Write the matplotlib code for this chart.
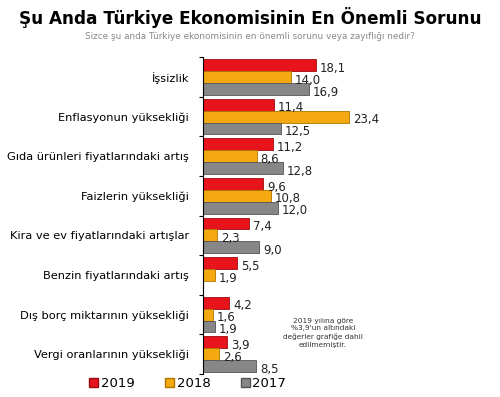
import matplotlib.pyplot as plt
from matplotlib.patches import Patch
import numpy as np

categories = ['İşsizlik', 'Enflasyonun yüksekliği', 'Gıda ürünleri fiyatlarındaki artış',
              'Faizlerin yüksekliği', 'Kira ve ev fiyatlarındaki artışlar',
              'Benzin fiyatlarındaki artış', 'Dış borç miktarının yüksekliği',
              'Vergi oranlarının yüksekliği']
v2019 = [18.1, 11.4, 11.2, 9.6, 7.4, 5.5, 4.2, 3.9]
v2018 = [14.0, 23.4, 8.6, 10.8, 2.3, 1.9, 1.6, 2.6]
v2017 = [16.9, 12.5, 12.8, 12.0, 9.0, None, 1.9, 8.5]
years = ['2019', '2018', '2017']
colors = ['#e8141c', '#f3a90f', '#878787']
edges = ['#9a0a0e', '#b07400', '#555555']

def fmt(v):
	return '{:.1f}'.format(v).replace('.', ',')

fig = plt.figure(figsize=(5, 3.97), dpi=100)
ax = fig.add_axes([0.406, 0.058, 0.6, 0.798])

n = len(categories)
h = 0.3
series = [v2019, v2018, v2017]
for k, vals in enumerate(series):
	for i, v in enumerate(vals):
		if v is None:
			continue
		y = i - h + k * h
		ax.barh(y, v, height=h, color=colors[k], edgecolor=edges[k], linewidth=0.6)
		ax.text(v + 0.6, y + 0.08, fmt(v), va='center', ha='left', fontsize=8.5, color='#222222')

ax.set_xlim(0, 48)
ax.set_ylim(n - 0.5, -0.5)
ax.set_yticks(range(n))
ax.set_yticklabels(categories, fontsize=8.2)
ax.tick_params(axis='y', length=0, pad=10)
ax.set_yticks(np.arange(-0.5, n, 1), minor=True)
ax.tick_params(axis='y', which='minor', length=3, width=0.8)
ax.set_xticks([])
for s in ['top', 'right', 'bottom']:
	ax.spines[s].set_visible(False)
ax.spines['left'].set_linewidth(0.8)

ax.text(0.40, 0.13, '2019 yılına göre\n%3,9\'un altındaki\ndeğerler grafiğe dahil\nedilmemiştir.',
	transform=ax.transAxes, fontsize=5.3, ha='center', va='center', color='#333333', linespacing=1.3)

fig.text(0.5, 0.955, 'Şu Anda Türkiye Ekonomisinin En Önemli Sorunu', ha='center', va='center',
	fontsize=12.2, fontweight='bold')
fig.text(0.5, 0.908, 'Sizce şu anda Türkiye ekonomisinin en önemli sorunu veya zayıflığı nedir?',
	ha='center', va='center', fontsize=6.4, color='#888888')

handles = [Patch(facecolor=colors[k], edgecolor=edges[k]) for k in range(3)]
fig.legend(handles, years, loc='center', bbox_to_anchor=(0.375, 0.033), ncol=3, frameon=False,
	fontsize=9.5, handlelength=0.7, handleheight=0.7, handletextpad=0.2, columnspacing=2.3)

plt.savefig('out.png', dpi=100)
